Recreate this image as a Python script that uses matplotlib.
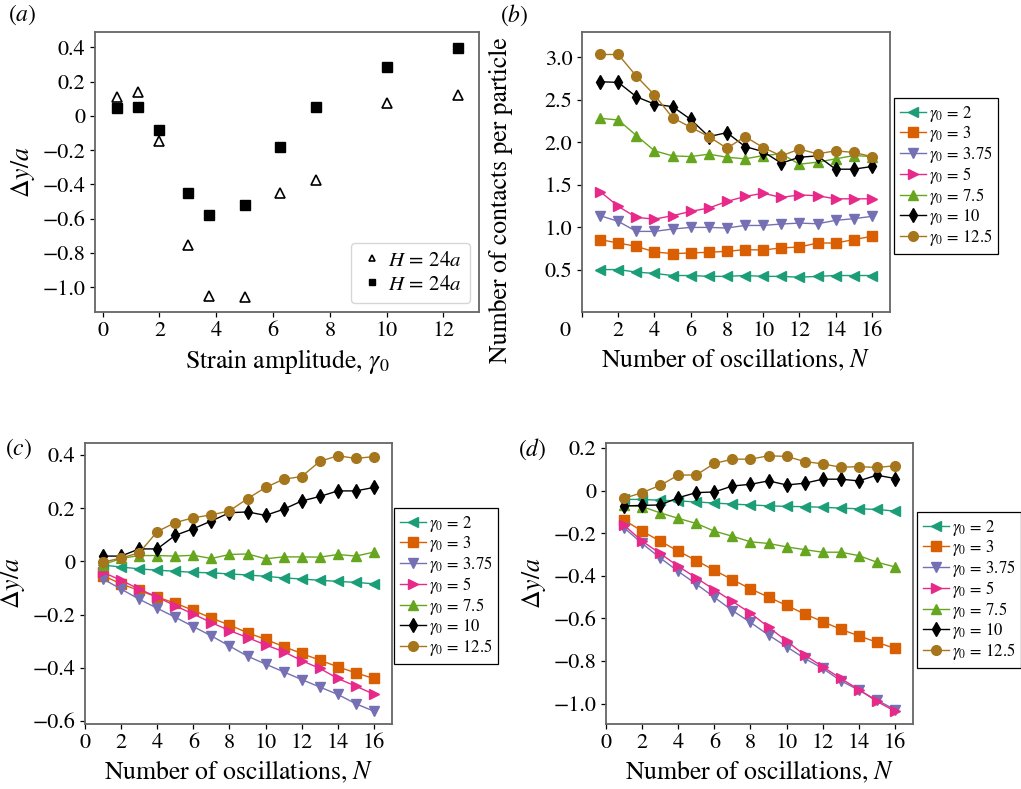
import numpy as np
import matplotlib
matplotlib.use("Agg")
import matplotlib.pyplot as plt
import matplotlib.transforms as mtransforms
from matplotlib.ticker import FuncFormatter

plt.rcParams['font.family'] = ['STIXGeneral', 'Liberation Serif', 'DejaVu Serif']
plt.rcParams['mathtext.fontset'] = 'stix'
plt.rcParams['axes.unicode_minus'] = True

# (a) final displacement vs strain amplitude
gamma_a = [0.5, 1.25, 2, 3, 3.75, 5, 6.25, 7.5, 10, 12.5]
dy_open = [0.112, 0.139, -0.148, -0.755, -1.051, -1.059, -0.452, -0.374, 0.073, 0.122]
dy_filled = [0.048, 0.05, -0.082, -0.448, -0.578, -0.518, -0.18, 0.05, 0.287, 0.394]

N = np.arange(1, 17)
gammas = ['2', '3', '3.75', '5', '7.5', '10', '12.5']
colors = ['#1b9e77', '#d95f02', '#7570b3', '#e7298a', '#66a61e', 'black', '#a6761d']
markers = ['<', 's', 'v', '>', '^', 'd', 'o']

# (b) contacts per particle
contacts = [
    [0.5, 0.5, 0.47, 0.455, 0.43, 0.43, 0.42, 0.42, 0.43, 0.42, 0.42, 0.41, 0.42, 0.43, 0.43, 0.43],
    [0.853, 0.813, 0.774, 0.708, 0.688, 0.696, 0.704, 0.715, 0.735, 0.731, 0.755, 0.766, 0.813, 0.813, 0.853, 0.892],
    [1.135, 1.068, 0.95, 0.95, 0.978, 0.997, 0.997, 0.99, 1.02, 1.02, 1.037, 1.048, 1.04, 1.08, 1.1, 1.127],
    [1.42, 1.245, 1.115, 1.095, 1.135, 1.186, 1.225, 1.303, 1.362, 1.40, 1.35, 1.38, 1.37, 1.334, 1.334, 1.334],
    [2.283, 2.263, 2.08, 1.9, 1.84, 1.832, 1.86, 1.824, 1.805, 1.844, 1.864, 1.742, 1.766, 1.805, 1.844, 1.832],
    [2.714, 2.706, 2.537, 2.45, 2.42, 2.27, 2.067, 2.114, 1.95, 1.89, 1.754, 1.824, 1.84, 1.683, 1.683, 1.715],
    [3.035, 3.035, 2.78, 2.557, 2.29, 2.177, 2.067, 1.93, 2.067, 1.938, 1.84, 1.92, 1.864, 1.9, 1.88, 1.832],
]

# (c) displacement vs N
dy_c = [
    [-0.014, -0.021, -0.028, -0.033, -0.037, -0.041, -0.043, -0.047, -0.051, -0.056, -0.062, -0.066, -0.071, -0.075, -0.079, -0.084],
    [-0.053, -0.085, -0.109, -0.134, -0.157, -0.184, -0.213, -0.239, -0.268, -0.293, -0.32, -0.346, -0.371, -0.396, -0.419, -0.44],
    [-0.066, -0.104, -0.142, -0.176, -0.21, -0.245, -0.28, -0.318, -0.356, -0.386, -0.415, -0.444, -0.472, -0.5, -0.535, -0.563],
    [-0.041, -0.071, -0.104, -0.134, -0.167, -0.198, -0.23, -0.26, -0.286, -0.314, -0.339, -0.373, -0.402, -0.44, -0.469, -0.499],
    [-0.012, 0.011, 0.022, 0.022, 0.02, 0.023, 0.011, 0.026, 0.028, 0.01, 0.017, 0.017, 0.016, 0.026, 0.02, 0.035],
    [0.02, 0.02, 0.047, 0.047, 0.098, 0.123, 0.152, 0.183, 0.186, 0.173, 0.196, 0.227, 0.244, 0.265, 0.265, 0.278],
    [-0.003, 0.013, 0.032, 0.112, 0.146, 0.164, 0.175, 0.19, 0.236, 0.278, 0.309, 0.319, 0.376, 0.397, 0.387, 0.394],
]

# (d) displacement vs N
dy_d = [
    [-0.041, -0.041, -0.045, -0.048, -0.053, -0.058, -0.063, -0.067, -0.071, -0.074, -0.075, -0.078, -0.082, -0.085, -0.088, -0.096],
    [-0.138, -0.19, -0.237, -0.284, -0.328, -0.374, -0.418, -0.461, -0.5, -0.539, -0.579, -0.615, -0.651, -0.682, -0.712, -0.741],
    [-0.174, -0.248, -0.316, -0.379, -0.439, -0.501, -0.563, -0.619, -0.678, -0.733, -0.788, -0.835, -0.893, -0.937, -0.984, -1.028],
    [-0.162, -0.237, -0.295, -0.355, -0.41, -0.465, -0.52, -0.575, -0.641, -0.706, -0.772, -0.827, -0.882, -0.934, -0.99, -1.036],
    [-0.069, -0.075, -0.104, -0.13, -0.154, -0.19, -0.214, -0.24, -0.248, -0.264, -0.277, -0.289, -0.289, -0.305, -0.336, -0.358],
    [-0.072, -0.069, -0.067, -0.033, -0.009, -0.006, 0.022, 0.03, 0.046, 0.027, 0.035, 0.054, 0.054, 0.046, 0.073, 0.057],
    [-0.036, -0.009, 0.025, 0.073, 0.074, 0.128, 0.148, 0.148, 0.164, 0.161, 0.137, 0.126, 0.11, 0.113, 0.109, 0.117],
]


def fmt(v, pos):
    if abs(v) < 1e-9:
        return '0'
    return f'{v:.1f}'.replace('-', '\u2212')


W, H = 1021, 789
fig = plt.figure(figsize=(W / 100, H / 100), dpi=100)


def px_axes(left, top, right, bottom):
    return fig.add_axes([left / W, 1 - bottom / H, (right - left) / W, (bottom - top) / H])


TICK = 16
LAB = 18.5
LEG = 12
SPINE = '0.4'


def style(ax):
    ax.tick_params(labelsize=TICK, length=3.5, width=0.9, color='black')
    for s in ax.spines.values():
        s.set_color(SPINE)
        s.set_linewidth(1.3)
    ax.yaxis.set_major_formatter(FuncFormatter(fmt))


def series(ax, data):
    for y, g, c, m in zip(data, gammas, colors, markers):
        ax.plot(N, y, color=c, marker=m, ms=7, lw=1.0, label=r'$\gamma_0\,=\,%s$' % g)


def outer_legend(ax, x, y):
    leg = ax.legend(loc='upper left', bbox_to_anchor=(x / W, 1 - y / H),
                    bbox_transform=fig.transFigure, fontsize=LEG, fancybox=False,
                    edgecolor='black', framealpha=1, borderaxespad=0,
                    labelspacing=0.0, handlelength=1.55, handletextpad=0.2,
                    borderpad=0.35)
    leg.get_frame().set_linewidth(0.9)


# (a)
ax = px_axes(95, 32, 479, 312)
ax.plot(gamma_a, dy_open, ls='none', marker='^', ms=6.5, mfc='white', mec='black',
        mew=1.2, label=r'$H\,=\,24a$')
ax.plot(gamma_a, dy_filled, ls='none', marker='s', ms=7.5, color='black',
        label=r'$H\,=\,24a$')
ax.set_xlim(-0.27, 13.25)
ax.set_ylim(-1.145, 0.49)
ax.set_xticks([0, 2, 4, 6, 8, 10, 12])
ax.set_yticks([-1.0, -0.8, -0.6, -0.4, -0.2, 0, 0.2, 0.4])
style(ax)
ax.set_xlabel(r'Strain amplitude, $\gamma_0$', fontsize=LAB)
ax.set_ylabel(r'$\mathit{\Delta} y/a$', fontsize=LAB)
ax.legend(loc='lower right', bbox_to_anchor=(0.977, 0.032), borderaxespad=0,
          fontsize=15, handletextpad=0.2, labelspacing=0.2, markerscale=0.65,
          handlelength=1.2)
fig.text(8 / W, 1 - 15 / H, r'$(a)$', fontsize=17, va='center', ha='left')

# (b)
ax = px_axes(582, 32, 890, 312)
series(ax, contacts)
ax.set_xlim(0, 17)
ax.set_ylim(0, 3.3)
ax.set_xticks(np.arange(0, 17, 2))
ax.set_yticks([0.5, 1.0, 1.5, 2.0, 2.5, 3.0])
style(ax)
ax.xaxis.set_major_formatter(FuncFormatter(lambda v, p: '%d' % v))
zero = ax.get_xticklabels()[0]
zero.set_transform(zero.get_transform() + mtransforms.ScaledTranslation(-17 / 100, 0, fig.dpi_scale_trans))
ax.set_xlabel(r'Number of oscillations, $N$', fontsize=LAB)
ax.set_ylabel('Number of contacts per particle', fontsize=LAB)
ax.yaxis.set_label_coords(-0.224, 0.40)
outer_legend(ax, 894, 98)
fig.text(500 / W, 1 - 15 / H, r'$(b)$', fontsize=17, va='center', ha='left')

# (c)
ax = px_axes(85, 443, 392, 724)
series(ax, dy_c)
ax.set_xlim(0, 17)
ax.set_xticks(np.arange(0, 17, 2))
ax.set_yticks([-0.6, -0.4, -0.2, 0, 0.2, 0.4])
style(ax)
ax.xaxis.set_major_formatter(FuncFormatter(lambda v, p: '%d' % v))
ax.set_xlabel(r'Number of oscillations, $N$', fontsize=LAB)
ax.set_ylabel(r'$\mathit{\Delta} y/a$', fontsize=LAB)
outer_legend(ax, 394, 508)
fig.text(5 / W, 1 - 449 / H, r'$(c)$', fontsize=17, va='center', ha='left')

# (d)
ax = px_axes(606, 443, 913, 724)
series(ax, dy_d)
ax.set_xlim(0, 17)
ax.set_xticks(np.arange(0, 17, 2))
ax.set_yticks([-1.0, -0.8, -0.6, -0.4, -0.2, 0, 0.2])
style(ax)
ax.xaxis.set_major_formatter(FuncFormatter(lambda v, p: '%d' % v))
ax.set_xlabel(r'Number of oscillations, $N$', fontsize=LAB)
ax.set_ylabel(r'$\mathit{\Delta} y/a$', fontsize=LAB)
outer_legend(ax, 917, 512)
fig.text(518 / W, 1 - 449 / H, r'$(d)$', fontsize=17, va='center', ha='left')

fig.savefig('out.png', dpi=100)
